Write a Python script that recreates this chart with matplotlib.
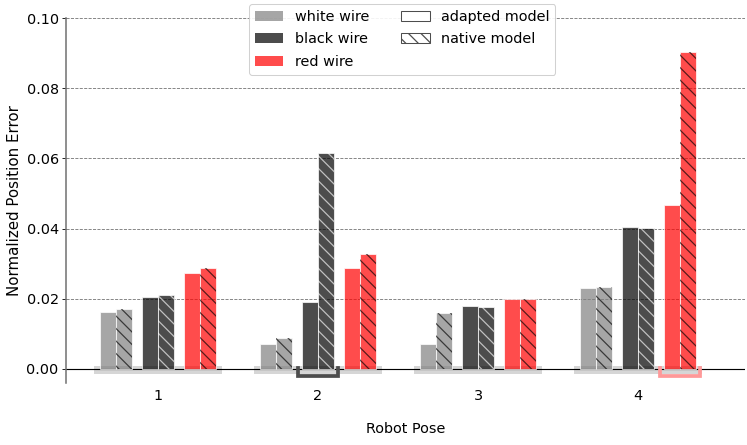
import matplotlib
matplotlib.use("Agg")
import matplotlib.pyplot as plt
from matplotlib.patches import Patch, Rectangle
import numpy as np

# ------------------------------------------------------------
# data
# ------------------------------------------------------------
poses = [1, 2, 3, 4]
wires = ["white wire", "black wire", "red wire"]
wire_colors = ["gray", "black", "red"]
hatch_colors = ["black", "white", "black"]

adapted = {
    "white wire": [0.0161, 0.0070, 0.0071, 0.0231],
    "black wire": [0.0204, 0.0192, 0.0180, 0.0405],
    "red wire": [0.0273, 0.0287, 0.0199, 0.0467],
}
native = {
    "white wire": [0.0171, 0.0087, 0.0160, 0.0234],
    "black wire": [0.0210, 0.0614, 0.0177, 0.0402],
    "red wire": [0.0289, 0.0328, 0.0199, 0.0903],
}

# highlighted wire pairs: (pose, wire, colour of the frame)
highlights = [(2, "black wire", "#4d4d4d"), (4, "red wire", "#ff9999")]

plt.rcParams["font.size"] = 13.8
plt.rcParams["hatch.linewidth"] = 1.2

# ------------------------------------------------------------
# plot
# ------------------------------------------------------------
fig = plt.figure(figsize=(747 / 75, 445 / 75), dpi=75)
ax = fig.add_axes([66 / 747, 62 / 445, 679 / 747, 365 / 445])

x = np.array(poses, dtype=float)
pair_off = [-0.2625, 0.0, 0.2625]
w = 0.1

ax.grid(axis="y", linestyle="--", color="0.45", linewidth=0.8, zorder=0)
ax.set_axisbelow(True)

for i, wire in enumerate(wires):
    xc = x + pair_off[i]
    ax.bar(xc - w / 2, adapted[wire], w, color=wire_colors[i], alpha=0.7,
           edgecolor="white", linewidth=1, zorder=3)
    ax.bar(xc + w / 2, native[wire], w, color=wire_colors[i], alpha=0.7,
           edgecolor="white", linewidth=1, zorder=3)
    ax.bar(xc + w / 2, native[wire], w, fill=False, hatch="\\\\",
           edgecolor=hatch_colors[i], alpha=0.65, linewidth=0, zorder=4)

# grey band under every group
for p in poses:
    ax.add_patch(Rectangle((p - 0.4, -0.0014), 0.8, 0.0022,
                           facecolor="#d6d6d6", edgecolor="none", zorder=1))

ax.axhline(0, color="black", linewidth=1.1, zorder=2)

# frames under the highlighted pairs
for p, wire, col in highlights:
    xc = p + pair_off[wires.index(wire)]
    x0, x1 = xc - 0.125, xc + 0.125
    ax.plot([x0, x0, x1, x1], [0.0003, -0.0020, -0.0020, 0.0003],
            color=col, linewidth=3.6, solid_joinstyle="miter", zorder=2.5)

ax.set_xlim(0.425, 4.669)
ax.set_ylim(-0.004, 0.10)
ax.set_yticks(np.arange(0, 0.101, 0.02))
ax.set_yticklabels([f"{v:.2f}" for v in np.arange(0, 0.101, 0.02)])
ax.set_xticks(poses)
ax.set_xticklabels([str(p) for p in poses])
ax.tick_params(axis="x", length=0, pad=6)

for s in ["top", "right", "bottom"]:
    ax.spines[s].set_visible(False)
ax.spines["left"].set_color("0.45")
ax.spines["left"].set_linewidth(1.5)

ax.set_xlabel("Robot Pose", labelpad=18)
ax.set_ylabel("Normalized Position Error", fontsize=14.4)

handles = [
    Patch(facecolor="gray", alpha=0.7, edgecolor="none", label="white wire"),
    Patch(facecolor="black", alpha=0.7, edgecolor="none", label="black wire"),
    Patch(facecolor="red", alpha=0.7, edgecolor="none", label="red wire"),
    Patch(facecolor="white", edgecolor="#4d4d4d", label="adapted model"),
    Patch(facecolor="white", edgecolor="#4d4d4d", hatch="\\\\", label="native model"),
]
ax.legend(handles=handles, ncol=2, loc="upper center",
          bbox_to_anchor=(0.495, 1.058), framealpha=0.9,
          labelspacing=0.6, columnspacing=2.2)

fig.savefig("out.png", dpi=75)
